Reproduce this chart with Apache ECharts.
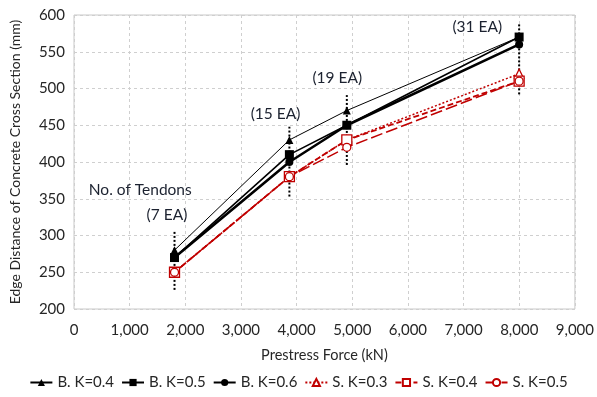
<!DOCTYPE html>
<html>
<head>
<meta charset="utf-8">
<script src="https://cdn.jsdelivr.net/npm/echarts@6/dist/echarts.min.js"></script>
<style>
  html, body { margin: 0; padding: 0; background: #fff; }
  #chart { width: 597px; height: 397px; }
</style>
</head>
<body>
<div id="chart"></div>
<script>
// Prestress force per anchorage (kN) for 7, 15, 19 and 31 tendons
const tendonCounts = [7, 15, 19, 31];
const prestressForce = [1806, 3870, 4902, 7998];

// Edge distance (mm) for each design case
const bK04 = [280, 430, 470, 570];
const bK05 = [270, 410, 450, 570];
const bK06 = [270, 400, 450, 560];
const sK03 = [250, 380, 430, 520];
const sK04 = [250, 380, 430, 510];
const sK05 = [250, 380, 420, 510];

// Range bars (mm) drawn as dotted verticals at each tendon count
const rangeLow  = [226, 353, 396, 492];
const rangeHigh = [305, 448, 491, 588];

// Annotation anchors [force, distance] and text
const noteText = ['No. of Tendons', '(7 EA)', '(15 EA)', '(19 EA)', '(31 EA)'];
const noteX = [1190, 1670, 3620, 4730, 7245];
const noteY = [362, 328, 465, 514, 584];

const xTicks = { min: 0, max: 9000, interval: 1000 };
const yTicks = { min: 200, max: 600, interval: 50 };

const RED = '#c00000';
const INK = '#262626';
const FONT = 'Lato';

function pts(vals) {
  return prestressForce.map((x, i) => [x, vals[i]]);
}

function lineSeries(name, vals, opt) {
  return Object.assign({
    name: name,
    type: 'line',
    data: pts(vals),
    symbolKeepAspect: true,
    z: 3
  }, opt);
}

const series = [];

// dotted vertical ranges
prestressForce.forEach((x, i) => {
  series.push({
    type: 'line',
    data: [[x, rangeLow[i]], [x, rangeHigh[i]]],
    symbol: 'none',
    lineStyle: { color: '#000', width: 2, type: [2, 2] },
    silent: true,
    z: 2
  });
});

series.push(
  lineSeries('B. K=0.4', bK04, {
    symbol: 'triangle', symbolSize: 8,
    itemStyle: { color: '#000' },
    lineStyle: { color: '#000', width: 1 }
  }),
  lineSeries('B. K=0.5', bK05, {
    symbol: 'rect', symbolSize: 9,
    itemStyle: { color: '#000' },
    lineStyle: { color: '#000', width: 1.6 }
  }),
  lineSeries('B. K=0.6', bK06, {
    symbol: 'circle', symbolSize: 8,
    itemStyle: { color: '#000' },
    lineStyle: { color: '#000', width: 2.6 }
  }),
  lineSeries('S. K=0.3', sK03, {
    symbol: 'triangle', symbolSize: 9,
    itemStyle: { color: '#fff', borderColor: RED, borderWidth: 1.3 },
    lineStyle: { color: RED, width: 1.5, type: [2, 2] }
  }),
  lineSeries('S. K=0.4', sK04, {
    symbol: 'rect', symbolSize: 10,
    itemStyle: { color: '#fff', borderColor: RED, borderWidth: 1.3 },
    lineStyle: { color: RED, width: 1.8, type: [6, 3] }
  }),
  lineSeries('S. K=0.5', sK05, {
    symbol: 'circle', symbolSize: 8,
    itemStyle: { color: '#fff', borderColor: RED, borderWidth: 1.3 },
    lineStyle: { color: RED, width: 1.5, type: [12, 4] }
  })
);

// text annotations
series.push({
  type: 'scatter',
  data: noteText.map((t, i) => ({ value: [noteX[i], noteY[i]], name: t })),
  symbolSize: 0,
  silent: true,
  itemStyle: { opacity: 1 },
  label: {
    show: true,
    position: 'inside',
    formatter: p => p.name,
    color: '#1c2230',
    opacity: 1,
    fontFamily: FONT,
    fontSize: 15.5
  },
  z: 5
});

const chart = echarts.init(document.getElementById('chart'), null, { renderer: 'canvas' });
chart.setOption({
  animation: false,
  backgroundColor: '#fff',
  textStyle: { fontFamily: FONT },
  grid: {
    left: 72, right: 17, top: 15, bottom: 88,
    show: true, borderColor: '#c8c8c8', borderWidth: 1
  },
  legend: {
    data: ['B. K=0.4', 'B. K=0.5', 'B. K=0.6', 'S. K=0.3', 'S. K=0.4', 'S. K=0.5'],
    bottom: 2,
    left: 'center',
    itemWidth: 22,
    itemHeight: 9,
    itemGap: 7,
    textStyle: { fontFamily: FONT, fontSize: 15, color: INK }
  },
  xAxis: {
    type: 'value',
    min: xTicks.min, max: xTicks.max, interval: xTicks.interval,
    name: 'Prestress Force (kN)',
    nameLocation: 'middle',
    nameGap: 39,
    nameTextStyle: { fontFamily: FONT, fontSize: 14.5, color: INK },
    axisLine: { show: false },
    axisTick: { show: false },
    axisLabel: {
      margin: 14, color: INK, fontFamily: FONT, fontSize: 15,
      formatter: v => v.toLocaleString('en-US')
    },
    splitLine: { show: true, lineStyle: { color: '#cfcfcf', type: [3, 3], width: 1 } }
  },
  yAxis: {
    type: 'value',
    min: yTicks.min, max: yTicks.max, interval: yTicks.interval,
    name: 'Edge Distance of Concrete Cross Section (mm)',
    nameLocation: 'middle',
    nameGap: 52,
    nameTextStyle: { fontFamily: FONT, fontSize: 14, color: INK },
    axisLine: { show: false },
    axisTick: { show: false },
    axisLabel: { margin: 9, color: INK, fontFamily: FONT, fontSize: 15 },
    splitLine: { show: true, lineStyle: { color: '#cfcfcf', type: [3, 3], width: 1 } }
  },
  series: series
});
</script>
</body>
</html>
